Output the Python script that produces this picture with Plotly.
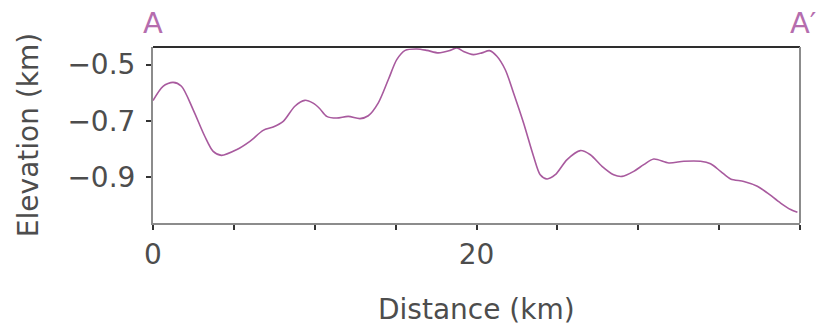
import plotly.graph_objects as go

# Topographic profile along section A–A'
distance_km = [0, 0.62, 1.24, 1.76, 2.48, 3.2, 3.72, 4.23, 5.16, 5.99, 6.81, 7.43,
               8.05, 8.77, 9.39, 9.9, 10.3, 10.74, 11.36, 12.07, 12.8, 13.31, 13.93,
               14.55, 15.07, 15.59, 16.31, 16.93, 17.65, 18.37, 18.79, 19.2, 19.81,
               20.33, 20.8, 21.26, 21.78, 22.29, 22.91, 23.53, 23.94, 24.36, 24.87,
               25.6, 26.42, 27.04, 27.76, 28.48, 29.0, 29.72, 30.34, 30.96, 31.89,
               32.82, 33.85, 34.47, 35.09, 35.71, 36.53, 37.36, 37.98, 38.8, 39.42,
               39.84]
elevation_km = [-0.628, -0.577, -0.563, -0.577, -0.660, -0.755, -0.809, -0.823,
                -0.803, -0.773, -0.734, -0.722, -0.702, -0.648, -0.627, -0.637,
                -0.656, -0.684, -0.690, -0.684, -0.692, -0.682, -0.636, -0.553,
                -0.482, -0.449, -0.444, -0.449, -0.458, -0.449, -0.440, -0.453,
                -0.464, -0.458, -0.450, -0.470, -0.518, -0.601, -0.708, -0.827,
                -0.892, -0.907, -0.892, -0.838, -0.806, -0.821, -0.862, -0.892,
                -0.898, -0.880, -0.856, -0.836, -0.850, -0.844, -0.844, -0.853,
                -0.880, -0.907, -0.916, -0.933, -0.957, -0.993, -1.016, -1.026]

x_ticks = [0, 5, 10, 15, 20, 25, 30, 35, 40]
x_tick_text = ["0", "", "", "", "20", "", "", "", ""]
y_ticks = [-0.5, -0.7, -0.9]
y_tick_text = ["\u22120.5", "\u22120.7", "\u22120.9"]

FONT = "DejaVu Sans"
WEIGHT = 400
TEXT = "#4d4d4d"
PURPLE = "#a85a9e"
LABEL_PURPLE = "#b56dae"
TICK_SIZE = 28
TITLE_SIZE = 28

fig = go.Figure()
fig.add_trace(go.Scatter(
    x=distance_km, y=elevation_km, mode="lines",
    line=dict(color=PURPLE, width=1.6, shape="spline", smoothing=0.8),
    showlegend=False, hoverinfo="skip",
))

fig.update_layout(
    width=819, height=329,
    margin=dict(l=153, r=19, t=47, b=106),
    paper_bgcolor="white", plot_bgcolor="white",
    font=dict(family=FONT, color=TEXT, size=TICK_SIZE, weight=WEIGHT),
    xaxis=dict(
        range=[0, 40], tickvals=x_ticks, ticktext=x_tick_text,
        showgrid=False, zeroline=False,
        showline=True, linecolor="#8c8c8c", linewidth=2,
        ticks="outside", ticklen=5, tickwidth=1.5, tickcolor="#333",
        tickfont=dict(size=TICK_SIZE, color=TEXT, weight=WEIGHT),
    ),
    yaxis=dict(
        range=[-1.064, -0.437], tickvals=y_ticks, ticktext=y_tick_text,
        showgrid=False, zeroline=False,
        showline=True, linecolor="#8c8c8c", linewidth=2,
        ticks="outside", ticklen=5, tickwidth=1.5, tickcolor="#333",
        tickfont=dict(size=TICK_SIZE, color=TEXT, weight=WEIGHT),
        ticklabelstandoff=5,
    ),
    shapes=[
        dict(type="line", xref="paper", yref="paper", x0=0, x1=1, y0=1, y1=1,
             line=dict(color="#2e2e2e", width=2)),
        dict(type="line", xref="paper", yref="paper", x0=1, x1=1, y0=0, y1=1,
             line=dict(color="#8c8c8c", width=2)),
    ],
    annotations=[
        dict(text="Elevation (km)", xref="paper", yref="paper", x=-0.193, y=0.5,
             textangle=-90, showarrow=False, xanchor="center", yanchor="middle",
             font=dict(size=TITLE_SIZE, color=TEXT, weight=WEIGHT)),
        dict(text="Distance (km)", xref="paper", yref="paper", x=0.5, y=-0.49,
             showarrow=False, xanchor="center", yanchor="middle",
             font=dict(size=TITLE_SIZE, color=TEXT, weight=WEIGHT)),
        dict(text="A", xref="paper", yref="paper", x=0.0, y=1.0, yshift=24,
             showarrow=False, xanchor="center", yanchor="middle",
             font=dict(size=29, color=LABEL_PURPLE, weight=WEIGHT)),
        dict(text="A\u2032", xref="paper", yref="paper", x=1.0, y=1.0, yshift=24,
             xshift=3, showarrow=False, xanchor="center", yanchor="middle",
             font=dict(size=29, color=LABEL_PURPLE, weight=WEIGHT)),
    ],
)

fig.write_html("out.html")
